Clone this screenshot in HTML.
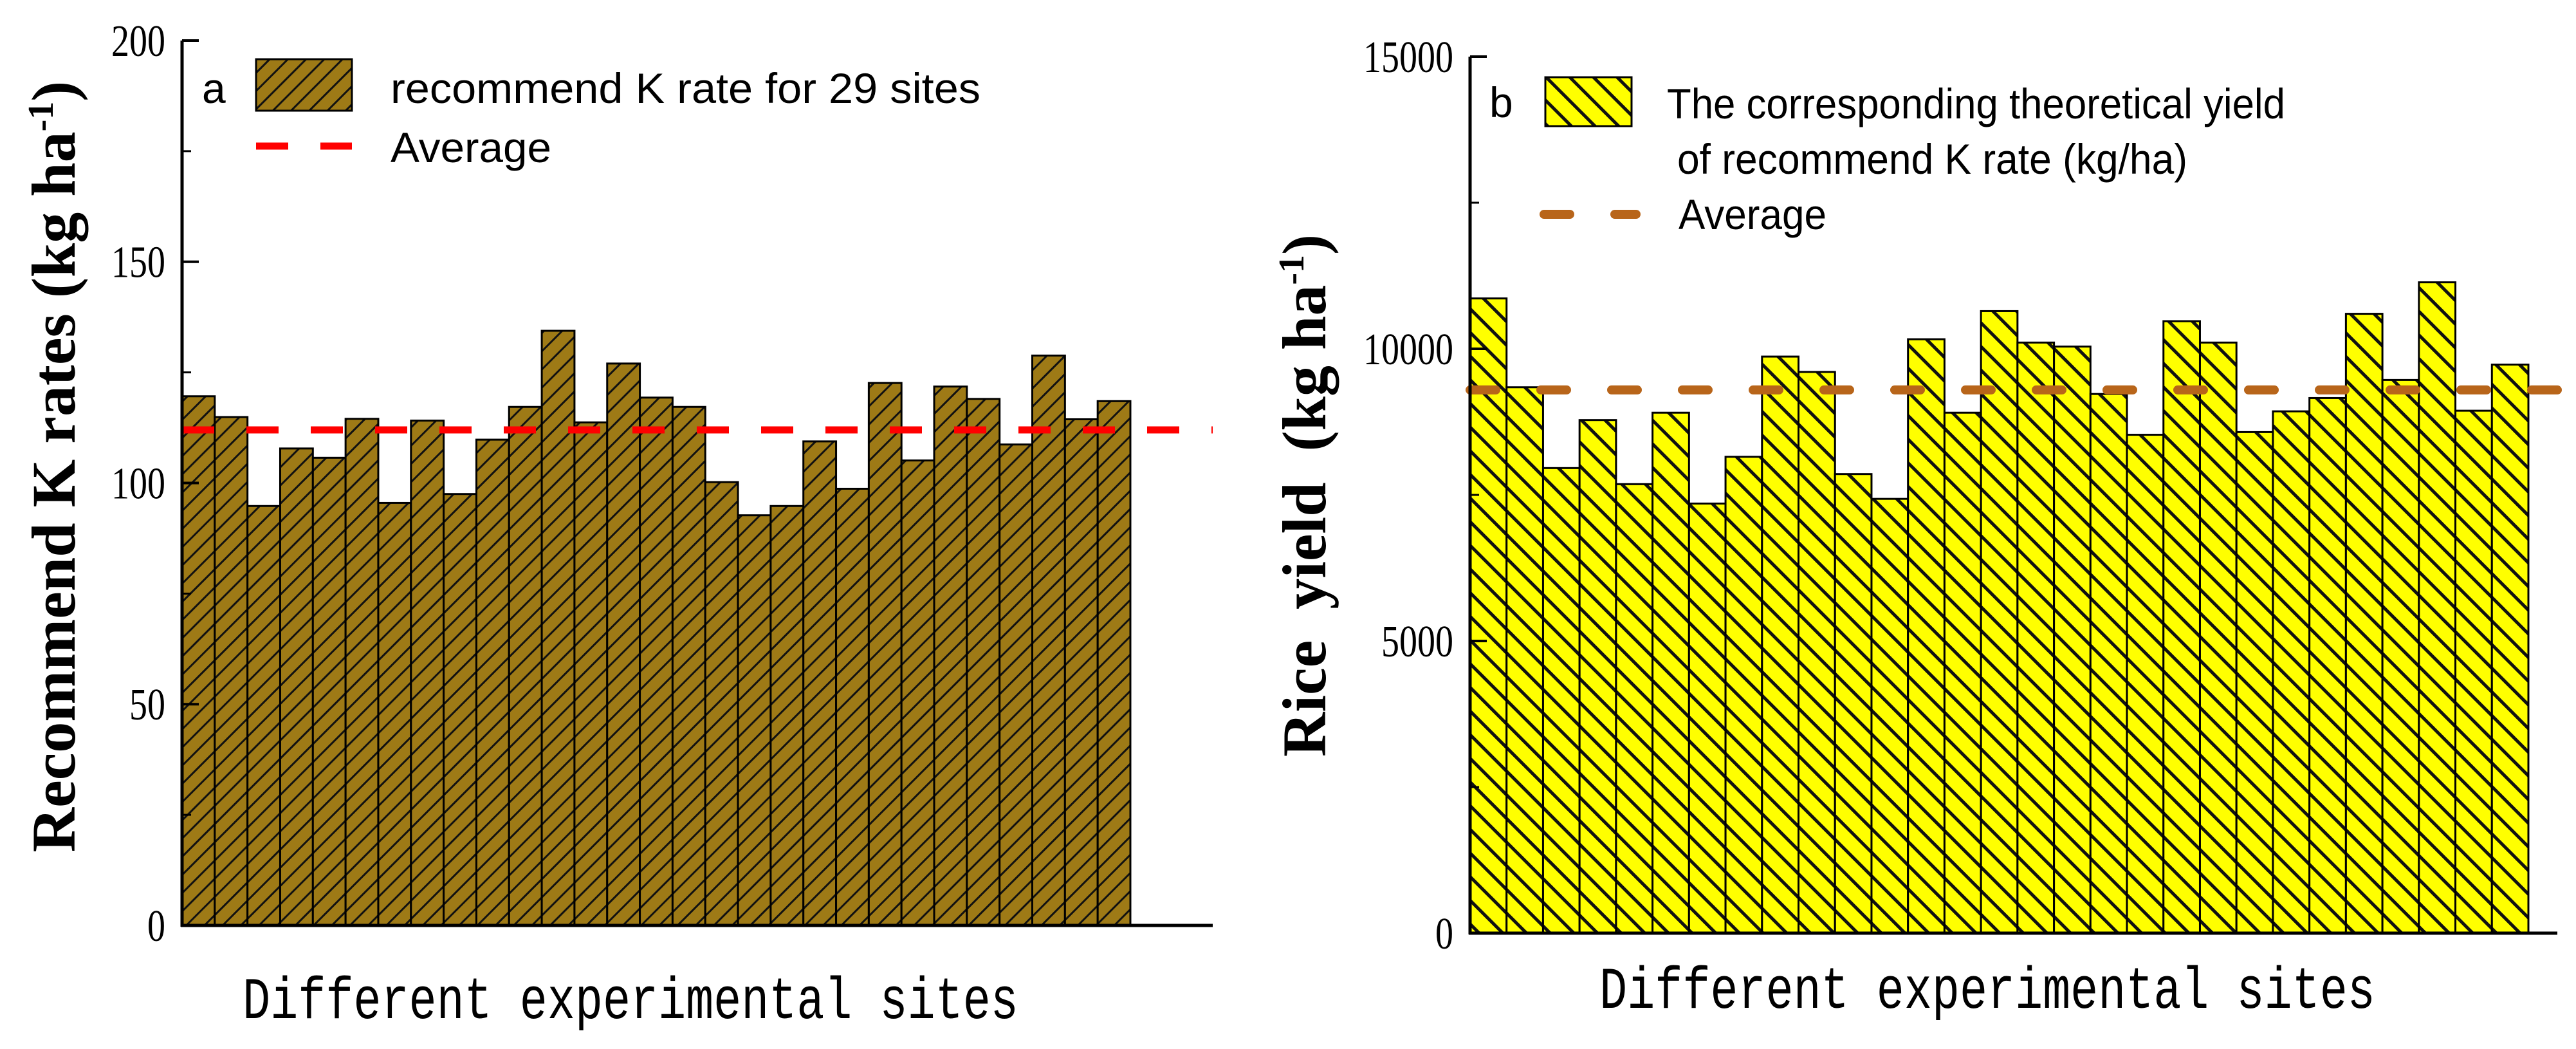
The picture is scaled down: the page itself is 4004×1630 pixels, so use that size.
<!DOCTYPE html>
<html><head><meta charset="utf-8"><style>
html,body{margin:0;padding:0;background:#fff}
svg{display:block}
.tick{font-family:"Liberation Serif",serif;font-size:70px}
.leg{font-family:"Liberation Sans",sans-serif;font-size:66px}
.xt{font-family:"Liberation Mono",monospace;font-size:92px}
.yt{font-family:"Liberation Serif",serif;font-size:96px;font-weight:bold;white-space:pre}
</style></head><body>
<svg id="chart" width="4004" height="1630" viewBox="0 0 4004 1630" xmlns="http://www.w3.org/2000/svg">
<defs>
<pattern id="hatchA" patternUnits="userSpaceOnUse" width="20" height="20" patternTransform="rotate(45)">
<rect width="20" height="20" fill="#9E7A16"/><rect x="0" y="0" width="3" height="20" fill="#111"/></pattern>
<pattern id="hatchB" patternUnits="userSpaceOnUse" width="26" height="26" patternTransform="rotate(-45)">
<rect width="26" height="26" fill="#FFFF00"/><rect x="0" y="0" width="5" height="26" fill="#111"/></pattern>
</defs>
<g id="panelA"></g>
<g id="panelB"></g>
</svg>
<script>
const sitesA = Array.from({length:29},(_, i)=>'S'+(i+1));
const kRates = [119.6,114.9,94.8,107.8,105.7,114.5,95.5,114.1,97.5,109.8,117.2,134.4,113.7,127.0,119.3,117.2,100.2,92.7,94.8,109.4,98.7,122.6,105.1,121.8,119.0,108.7,128.8,114.4,118.5];
const kAverage = [112.0];
const kTicks = [0,50,100,150,200];
const yields = [10862,9342,7959,8781,7684,8907,7352,8152,9867,9604,7856,7432,10164,8907,10645,10107,10039,9227,8529,10473,10107,8575,8930,9158,10599,9467,11138,8941,9730];
const yieldAverage = [9296];
const yieldTicks = [0,5000,10000,15000];

const NS='http://www.w3.org/2000/svg';
function mk(parent,tag,attrs,text){const e=document.createElementNS(NS,tag);for(const k in attrs)e.setAttribute(k,attrs[k]);if(text!==undefined)e.textContent=text;parent.appendChild(e);return e;}

function drawPanel(g,o){
  const y=v=>o.y0+(o.y1-o.y0)*(v-o.min)/(o.max-o.min);
  const bw=(o.barEnd-o.x0)/o.vals.length;
  const x=i=>o.x0+i*bw;
  o.vals.forEach((v,i)=>{
    const r=mk(g,'rect',{x:x(i),y:y(v),width:bw,height:o.y0-y(v),fill:o.fill,stroke:'#000','stroke-width':3});
    
    
  });
  const av=mk(g,'line',{x1:o.x0,x2:o.axEnd,y1:y(o.avg[0]),y2:y(o.avg[0]),stroke:o.avgColor,'stroke-width':o.avgW,'stroke-dasharray':o.dash,'stroke-linecap':o.cap});
  
  
  const ya=mk(g,'line',{x1:o.x0,x2:o.x0,y1:o.y0+2,y2:y(o.max),stroke:'#000','stroke-width':5});
  
  
  const xa=mk(g,'line',{x1:o.x0-2,x2:o.axEnd,y1:o.y0,y2:o.y0,stroke:'#000','stroke-width':5});
  
  
  o.ticks.forEach((t,i)=>{
    mk(g,'line',{x1:o.x0,x2:o.x0+26,y1:y(t),y2:y(t),stroke:'#000','stroke-width':4});
    if(i<o.ticks.length-1){const m=(t+o.ticks[i+1])/2;mk(g,'line',{x1:o.x0,x2:o.x0+14,y1:y(m),y2:y(m),stroke:'#000','stroke-width':3});}
    const lx=o.x0-26;
    const tl=mk(g,'text',{x:lx,y:y(t)+24,'text-anchor':'end',class:'tick',transform:`translate(${lx},0) scale(0.8,1) translate(${-lx},0)`},String(t));
    
    
  });
}
const A=document.getElementById('panelA'),B=document.getElementById('panelB');
drawPanel(A,{vals:kRates,avg:kAverage,ticks:kTicks,min:0,max:200,x0:283,barEnd:1757,axEnd:1885,y0:1438,y1:63,fill:'url(#hatchA)',avgColor:'#FF0000',avgW:11,dash:'50 50',cap:'butt'});
drawPanel(B,{vals:yields,avg:yieldAverage,ticks:yieldTicks,min:0,max:15000,x0:2285,barEnd:3930,axEnd:3975,y0:1450,y1:88,fill:'url(#hatchB)',avgColor:'#B8651A',avgW:14,dash:'40 70',cap:'round'});
</script>
<svg width="4004" height="1630" viewBox="0 0 4004 1630" style="position:absolute;left:0;top:0" xmlns="http://www.w3.org/2000/svg">
<text class="yt" transform="translate(116,725) rotate(-90)" text-anchor="middle">Recommend K rates (kg ha<tspan dy="-34" font-size="56">-1</tspan><tspan dy="34">)</tspan></text>
<text class="xt" transform="translate(980,1582) scale(0.78,1)" text-anchor="middle">Different experimental sites</text>
<text class="leg" x="314" y="160" font-size="70">a</text>
<rect x="398" y="92" width="149" height="80" fill="url(#hatchA)" stroke="#000" stroke-width="3"/>
<text class="leg" x="607" y="160" textLength="917" lengthAdjust="spacingAndGlyphs">recommend K rate for 29 sites</text>
<line x1="398" x2="547" y1="227" y2="227" stroke="#FF0000" stroke-width="11" stroke-dasharray="50 50"/>
<text class="leg" x="607" y="252" textLength="250" lengthAdjust="spacingAndGlyphs">Average</text>
<text class="yt" transform="translate(2060,770) rotate(-90)" text-anchor="middle" xml:space="preserve">Rice  yield  (kg ha<tspan dy="-34" font-size="56">-1</tspan><tspan dy="34">)</tspan></text>
<text class="xt" transform="translate(3089,1566) scale(0.78,1)" text-anchor="middle">Different experimental sites</text>
<text class="leg" x="2315" y="182" font-size="70">b</text>
<rect x="2402" y="120" width="134" height="76" fill="url(#hatchB)" stroke="#000" stroke-width="3"/>
<text class="leg" x="2591" y="184" textLength="961" lengthAdjust="spacingAndGlyphs">The corresponding theoretical yield</text>
<text class="leg" x="2607" y="270" textLength="793" lengthAdjust="spacingAndGlyphs">of recommend K rate (kg/ha)</text>
<line x1="2400" x2="2543" y1="333" y2="333" stroke="#B8651A" stroke-width="14" stroke-linecap="round" stroke-dasharray="40 70"/>
<text class="leg" x="2609" y="356" textLength="230" lengthAdjust="spacingAndGlyphs">Average</text>
</svg>
</body></html>
